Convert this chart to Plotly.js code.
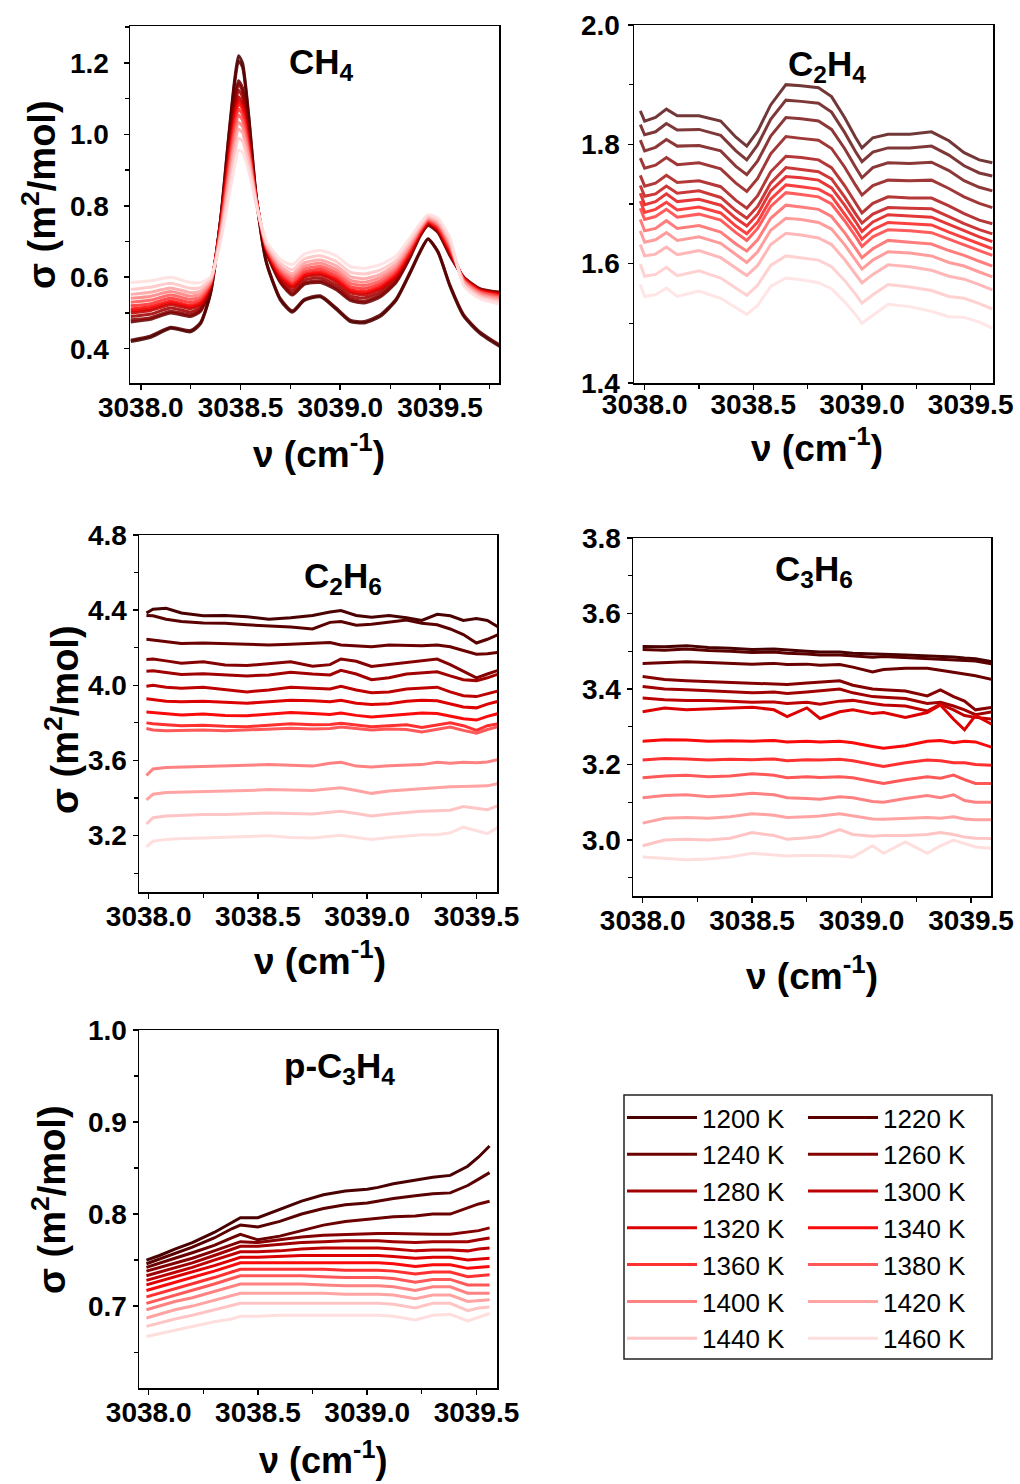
<!DOCTYPE html>
<html>
<head>
<meta charset="utf-8">
<script src="https://cdn.plot.ly/plotly-3.0.1.min.js"></script>
<style>html,body{margin:0;padding:0;background:#fff;}#chart{width:1020px;height:1484px;}</style>
</head>
<body>
<div id="chart"></div>
<script>
// ---------- DATA ----------
const temps = [1200,1220,1240,1260,1280,1300,1320,1340,1360,1380,1400,1420,1440,1460];
const colors = ['#4a0000','#5a0000','#6b0000','#850000','#a00000','#bd0000','#dc0000','#fa0a0a','#ff3030','#ff5858','#ff8282','#ffa3a3','#ffc4c4','#ffdede'];

// CH4 panel
const ch4X = [3037.95,3038.05,3038.15,3038.25,3038.30,3038.35,3038.40,3038.44,3038.47,3038.49,3038.51,3038.54,3038.58,3038.63,3038.70,3038.76,3038.82,3038.90,3038.98,3039.05,3039.12,3039.20,3039.28,3039.35,3039.40,3039.44,3039.49,3039.55,3039.62,3039.70,3039.80];
const ch4Y = [
 [.420,.432,.457,.447,.470,.555,.760,.990,1.150,1.220,1.200,1.060,.820,.640,.536,.502,.535,.545,.510,.476,.472,.490,.535,.611,.670,.706,.670,.575,.490,.443,.406], // 1200
 [.424,.436,.460,.451,.474,.557,.758,.985,1.140,1.205,1.188,1.052,.818,.642,.540,.506,.538,.548,.514,.480,.476,.494,.539,.614,.672,.708,.672,.578,.494,.447,.410], // 1220
 [.475,.482,.500,.490,.505,.570,.760,.960,1.100,1.150,1.130,1.010,.820,.670,.585,.550,.580,.585,.565,.535,.528,.545,.585,.655,.715,.745,.725,.660,.600,.568,.558], // 1240
 [.481,.487,.505,.495,.509,.572,.757,.953,1.090,1.140,1.121,1.004,.819,.672,.588,.555,.584,.590,.570,.540,.533,.550,.589,.658,.717,.747,.727,.663,.599,.567,.557], // 1260
 [.490,.497,.514,.503,.516,.574,.752,.940,1.073,1.123,1.105,.995,.817,.674,.594,.563,.592,.598,.578,.548,.542,.558,.596,.663,.720,.749,.731,.667,.598,.566,.555], // 1280
 [.500,.507,.523,.512,.523,.577,.746,.928,1.056,1.105,1.089,.985,.815,.677,.600,.571,.600,.606,.587,.557,.550,.566,.602,.668,.723,.752,.734,.672,.597,.564,.553], // 1300
 [.506,.512,.528,.517,.527,.578,.743,.921,1.047,1.095,1.080,.979,.814,.678,.603,.575,.604,.610,.592,.562,.555,.570,.606,.670,.725,.753,.736,.674,.596,.563,.552], // 1320
 [.511,.518,.533,.521,.531,.580,.740,.914,1.037,1.086,1.071,.974,.813,.680,.606,.579,.608,.615,.596,.566,.560,.575,.610,.673,.727,.755,.738,.677,.595,.562,.550], // 1340
 [.520,.526,.541,.529,.538,.582,.735,.903,1.022,1.070,1.056,.965,.812,.682,.612,.586,.615,.622,.604,.574,.568,.582,.616,.678,.729,.757,.741,.681,.593,.560,.548], // 1360
 [.530,.536,.550,.538,.545,.585,.730,.890,1.005,1.053,1.040,.955,.810,.685,.618,.594,.623,.630,.613,.583,.577,.590,.623,.683,.733,.760,.745,.685,.591,.558,.545], // 1380
 [.541,.547,.560,.547,.553,.588,.724,.876,.986,1.033,1.022,.944,.808,.688,.624,.602,.631,.639,.622,.592,.586,.599,.630,.688,.736,.763,.749,.690,.588,.555,.541], // 1400
 [.552,.558,.570,.557,.561,.591,.718,.862,.967,1.014,1.004,.933,.806,.691,.631,.610,.640,.648,.632,.602,.596,.608,.638,.694,.740,.766,.753,.695,.585,.551,.537], // 1420
 [.566,.572,.583,.569,.571,.595,.710,.844,.942,.988,.981,.919,.803,.695,.639,.621,.651,.660,.644,.614,.609,.620,.647,.701,.744,.770,.758,.702,.580,.546,.531], // 1440
 [.585,.590,.600,.585,.585,.600,.700,.820,.910,.955,.950,.900,.800,.700,.650,.635,.665,.675,.660,.630,.625,.635,.660,.710,.750,.775,.765,.710,.575,.540,.525]  // 1460
];

// C2H4 panel
const c2h4X = [3037.98,3038.00,3038.05,3038.10,3038.15,3038.25,3038.35,3038.42,3038.47,3038.52,3038.58,3038.65,3038.72,3038.80,3038.86,3038.92,3038.97,3039.00,3039.05,3039.12,3039.22,3039.32,3039.40,3039.47,3039.54,3039.60];
const c2h4Y = [
 [1.856,1.839,1.845,1.859,1.848,1.848,1.839,1.812,1.797,1.822,1.866,1.900,1.898,1.895,1.880,1.845,1.812,1.794,1.811,1.817,1.817,1.821,1.806,1.786,1.774,1.769],
 [1.833,1.816,1.821,1.835,1.824,1.825,1.815,1.789,1.774,1.799,1.842,1.874,1.872,1.869,1.854,1.820,1.788,1.771,1.787,1.794,1.794,1.797,1.782,1.764,1.752,1.747],
 [1.807,1.789,1.795,1.808,1.797,1.798,1.789,1.763,1.749,1.772,1.814,1.845,1.843,1.839,1.825,1.793,1.762,1.744,1.761,1.769,1.768,1.770,1.756,1.739,1.728,1.722],
 [1.777,1.760,1.765,1.778,1.766,1.769,1.759,1.735,1.721,1.743,1.784,1.813,1.810,1.807,1.793,1.762,1.732,1.715,1.731,1.740,1.739,1.740,1.726,1.712,1.701,1.694],
 [1.748,1.730,1.735,1.748,1.736,1.739,1.729,1.706,1.693,1.714,1.754,1.780,1.778,1.774,1.761,1.731,1.702,1.685,1.701,1.712,1.710,1.710,1.697,1.684,1.673,1.667],
 [1.731,1.713,1.717,1.730,1.718,1.722,1.711,1.689,1.676,1.696,1.735,1.761,1.758,1.754,1.742,1.712,1.684,1.668,1.683,1.694,1.693,1.692,1.679,1.667,1.657,1.650],
 [1.718,1.699,1.704,1.717,1.704,1.708,1.698,1.676,1.663,1.683,1.722,1.746,1.744,1.740,1.727,1.698,1.671,1.654,1.670,1.682,1.680,1.678,1.666,1.655,1.645,1.637],
 [1.705,1.686,1.691,1.703,1.690,1.695,1.685,1.663,1.650,1.670,1.708,1.732,1.729,1.725,1.713,1.684,1.658,1.641,1.657,1.669,1.667,1.665,1.653,1.643,1.633,1.625],
 [1.693,1.674,1.679,1.691,1.678,1.683,1.673,1.652,1.639,1.659,1.696,1.719,1.716,1.712,1.700,1.672,1.646,1.629,1.645,1.657,1.655,1.652,1.641,1.631,1.622,1.614],
 [1.674,1.655,1.659,1.672,1.659,1.664,1.653,1.633,1.621,1.640,1.676,1.698,1.695,1.691,1.679,1.652,1.626,1.610,1.625,1.639,1.636,1.633,1.622,1.614,1.604,1.596],
 [1.655,1.636,1.640,1.652,1.639,1.645,1.634,1.615,1.602,1.620,1.656,1.676,1.674,1.669,1.658,1.632,1.607,1.591,1.606,1.620,1.618,1.613,1.602,1.596,1.586,1.578],
 [1.632,1.613,1.616,1.628,1.615,1.622,1.610,1.592,1.580,1.597,1.632,1.651,1.648,1.643,1.632,1.607,1.583,1.568,1.582,1.598,1.595,1.589,1.579,1.574,1.565,1.556],
 [1.599,1.579,1.582,1.594,1.580,1.588,1.576,1.559,1.547,1.564,1.597,1.613,1.610,1.606,1.595,1.572,1.549,1.534,1.548,1.565,1.561,1.555,1.545,1.542,1.533,1.524],
 [1.565,1.545,1.548,1.559,1.545,1.554,1.542,1.526,1.515,1.530,1.562,1.576,1.573,1.568,1.558,1.536,1.515,1.500,1.514,1.532,1.528,1.520,1.511,1.510,1.502,1.492]
];

// C2H6 panel
const c2h6X = [3037.99,3038.02,3038.08,3038.15,3038.25,3038.35,3038.45,3038.55,3038.65,3038.75,3038.83,3038.88,3038.95,3039.02,3039.10,3039.18,3039.25,3039.32,3039.38,3039.44,3039.50,3039.55,3039.60];
const c2h6Y = [
 [4.385,4.405,4.410,4.385,4.370,4.372,4.365,4.352,4.360,4.372,4.390,4.398,4.372,4.362,4.372,4.360,4.345,4.378,4.370,4.345,4.355,4.345,4.310],
 [4.372,4.370,4.352,4.340,4.332,4.330,4.322,4.318,4.310,4.300,4.335,4.340,4.320,4.325,4.335,4.348,4.330,4.322,4.300,4.270,4.225,4.245,4.270],
 [4.245,4.240,4.232,4.222,4.225,4.222,4.220,4.215,4.218,4.225,4.228,4.215,4.208,4.205,4.215,4.212,4.210,4.215,4.205,4.185,4.165,4.168,4.175],
 [4.138,4.140,4.130,4.118,4.125,4.108,4.105,4.115,4.125,4.102,4.110,4.140,4.128,4.100,4.110,4.120,4.128,4.140,4.110,4.075,4.040,4.060,4.080],
 [4.075,4.078,4.068,4.058,4.062,4.055,4.050,4.055,4.070,4.060,4.055,4.080,4.060,4.030,4.040,4.060,4.065,4.072,4.050,4.030,4.025,4.040,4.060],
 [3.995,4.000,3.990,3.985,3.990,3.978,3.965,3.975,3.990,3.985,3.980,3.995,3.975,3.960,3.965,3.980,3.985,3.990,3.965,3.945,3.940,3.955,3.970],
 [3.928,3.925,3.915,3.912,3.915,3.910,3.905,3.912,3.920,3.918,3.912,3.920,3.905,3.898,3.902,3.915,3.920,3.918,3.900,3.885,3.880,3.900,3.915],
 [3.858,3.855,3.848,3.842,3.848,3.840,3.838,3.845,3.855,3.850,3.845,3.852,3.840,3.832,3.838,3.848,3.852,3.850,3.835,3.822,3.815,3.835,3.850],
 [3.800,3.795,3.790,3.785,3.788,3.782,3.780,3.788,3.795,3.790,3.792,3.798,3.788,3.780,3.785,3.790,3.775,3.790,3.800,3.785,3.760,3.785,3.795],
 [3.770,3.762,3.758,3.760,3.762,3.758,3.762,3.765,3.772,3.768,3.770,3.778,3.770,3.762,3.768,3.765,3.752,3.768,3.778,3.760,3.745,3.765,3.780],
 [3.520,3.555,3.562,3.565,3.568,3.570,3.575,3.578,3.575,3.570,3.585,3.590,3.570,3.565,3.572,3.575,3.578,3.590,3.585,3.590,3.588,3.592,3.605],
 [3.390,3.420,3.430,3.432,3.435,3.435,3.440,3.445,3.442,3.440,3.450,3.455,3.440,3.425,3.438,3.445,3.450,3.458,3.460,3.462,3.465,3.465,3.478],
 [3.262,3.295,3.305,3.308,3.312,3.312,3.318,3.320,3.318,3.315,3.325,3.330,3.318,3.305,3.315,3.325,3.330,3.332,3.335,3.355,3.345,3.338,3.360],
 [3.140,3.170,3.180,3.185,3.188,3.190,3.195,3.200,3.190,3.188,3.198,3.202,3.190,3.180,3.190,3.200,3.205,3.205,3.215,3.245,3.228,3.210,3.245]
];

// C3H6 panel
const c3h6X = [3038.00,3038.10,3038.20,3038.30,3038.40,3038.50,3038.60,3038.66,3038.75,3038.81,3038.90,3038.96,3039.05,3039.10,3039.20,3039.30,3039.36,3039.42,3039.47,3039.52,3039.60];
const c3h6Y = [
 [3.513,3.512,3.515,3.510,3.508,3.505,3.506,3.503,3.500,3.498,3.498,3.495,3.492,3.492,3.490,3.488,3.487,3.485,3.482,3.480,3.472],
 [3.505,3.503,3.506,3.502,3.500,3.497,3.498,3.495,3.493,3.490,3.490,3.487,3.484,3.486,3.483,3.482,3.480,3.478,3.476,3.474,3.466],
 [3.468,3.470,3.472,3.470,3.468,3.466,3.468,3.465,3.466,3.463,3.465,3.458,3.445,3.452,3.455,3.455,3.450,3.445,3.440,3.435,3.425],
 [3.433,3.425,3.422,3.420,3.418,3.415,3.414,3.412,3.416,3.418,3.422,3.410,3.400,3.398,3.395,3.382,3.398,3.380,3.368,3.345,3.352],
 [3.407,3.400,3.398,3.395,3.393,3.390,3.392,3.388,3.392,3.396,3.400,3.390,3.380,3.378,3.375,3.362,3.365,3.355,3.345,3.332,3.340],
 [3.376,3.372,3.370,3.370,3.368,3.365,3.366,3.362,3.365,3.360,3.368,3.370,3.362,3.358,3.355,3.342,3.360,3.345,3.330,3.325,3.320],
 [3.340,3.350,3.345,3.348,3.350,3.352,3.345,3.327,3.350,3.322,3.340,3.345,3.335,3.338,3.325,3.338,3.358,3.320,3.292,3.330,3.305],
 [3.262,3.266,3.265,3.262,3.263,3.262,3.264,3.260,3.262,3.260,3.262,3.258,3.248,3.243,3.250,3.262,3.264,3.258,3.262,3.260,3.245],
 [3.212,3.216,3.215,3.212,3.214,3.213,3.215,3.210,3.213,3.212,3.214,3.210,3.200,3.195,3.205,3.212,3.210,3.205,3.205,3.200,3.198],
 [3.165,3.170,3.172,3.168,3.170,3.176,3.172,3.165,3.168,3.166,3.168,3.165,3.155,3.150,3.160,3.168,3.164,3.172,3.160,3.150,3.150],
 [3.112,3.118,3.120,3.115,3.118,3.124,3.120,3.112,3.110,3.108,3.115,3.112,3.102,3.100,3.110,3.118,3.112,3.120,3.105,3.100,3.100],
 [3.045,3.058,3.060,3.058,3.062,3.070,3.066,3.060,3.062,3.064,3.070,3.064,3.056,3.055,3.058,3.060,3.058,3.062,3.056,3.054,3.054],
 [2.985,3.000,3.002,3.000,3.005,3.020,3.012,3.002,3.006,3.010,3.028,3.015,3.010,3.012,3.012,3.015,3.020,3.015,3.008,3.005,3.004],
 [2.955,2.952,2.948,2.950,2.955,2.965,2.960,2.958,2.960,2.960,2.958,2.955,2.985,2.965,2.995,2.965,2.985,3.000,2.990,2.982,2.978]
];

// p-C3H4 panel
const pc3h4X = [3037.99,3038.05,3038.12,3038.20,3038.30,3038.38,3038.42,3038.50,3038.60,3038.70,3038.80,3038.90,3039.00,3039.05,3039.12,3039.22,3039.30,3039.38,3039.46,3039.51,3039.56];
const pc3h4Y = [
 [0.750,0.755,0.762,0.769,0.780,0.791,0.796,0.796,0.805,0.814,0.821,0.825,0.827,0.829,0.833,0.837,0.840,0.842,0.852,0.862,0.874],
 [0.746,0.751,0.757,0.764,0.774,0.784,0.788,0.786,0.792,0.800,0.806,0.810,0.812,0.814,0.817,0.820,0.822,0.823,0.831,0.838,0.845],
 [0.742,0.747,0.752,0.758,0.766,0.774,0.778,0.772,0.776,0.782,0.788,0.792,0.794,0.795,0.797,0.798,0.800,0.800,0.807,0.811,0.814],
 [0.738,0.742,0.747,0.752,0.760,0.767,0.770,0.769,0.772,0.775,0.777,0.778,0.779,0.779,0.779,0.778,0.778,0.778,0.780,0.782,0.785],
 [0.733,0.737,0.742,0.747,0.755,0.762,0.765,0.765,0.767,0.769,0.770,0.771,0.771,0.771,0.770,0.769,0.770,0.770,0.770,0.772,0.774],
 [0.728,0.732,0.737,0.742,0.750,0.756,0.759,0.759,0.760,0.762,0.763,0.763,0.763,0.763,0.762,0.760,0.761,0.761,0.760,0.762,0.763],
 [0.723,0.727,0.732,0.737,0.744,0.750,0.753,0.753,0.754,0.755,0.755,0.755,0.755,0.755,0.754,0.752,0.753,0.753,0.750,0.751,0.752],
 [0.717,0.721,0.726,0.731,0.738,0.744,0.747,0.747,0.747,0.747,0.747,0.747,0.747,0.747,0.746,0.743,0.745,0.745,0.741,0.742,0.743],
 [0.710,0.714,0.719,0.724,0.731,0.737,0.740,0.740,0.740,0.740,0.740,0.739,0.739,0.739,0.738,0.735,0.737,0.737,0.732,0.733,0.734],
 [0.703,0.707,0.712,0.717,0.724,0.730,0.733,0.733,0.733,0.733,0.732,0.731,0.731,0.731,0.730,0.726,0.729,0.729,0.723,0.723,0.723],
 [0.696,0.700,0.705,0.709,0.716,0.721,0.724,0.724,0.724,0.724,0.723,0.722,0.722,0.722,0.721,0.717,0.721,0.721,0.714,0.714,0.714],
 [0.687,0.691,0.696,0.700,0.706,0.711,0.714,0.714,0.714,0.714,0.714,0.713,0.713,0.713,0.712,0.708,0.712,0.712,0.705,0.706,0.707],
 [0.678,0.682,0.686,0.690,0.696,0.700,0.703,0.703,0.703,0.703,0.703,0.703,0.703,0.703,0.702,0.698,0.703,0.703,0.695,0.698,0.699],
 [0.667,0.670,0.674,0.678,0.683,0.686,0.689,0.689,0.690,0.690,0.690,0.690,0.690,0.690,0.689,0.685,0.690,0.691,0.684,0.688,0.692]
];

const panelNames = ['CH<sub>4</sub>','C<sub>2</sub>H<sub>4</sub>','C<sub>2</sub>H<sub>6</sub>','C<sub>3</sub>H<sub>6</sub>','p-C<sub>3</sub>H<sub>4</sub>'];

// ---------- FIGURE ----------
const W = 1020, H = 1484;
const px = v => v / W;
const py = v => 1 - v / H;
const FONT = 'Liberation Sans, Arial, Helvetica, sans-serif';

const panels = [
  {x: ch4X,   ys: ch4Y,   xa: 'x',  ya: 'y',  opacity: 0.88, shape: 'spline'},
  {x: c2h4X,  ys: c2h4Y,  xa: 'x2', ya: 'y2', opacity: 0.78, shape: 'linear'},
  {x: c2h6X,  ys: c2h6Y,  xa: 'x3', ya: 'y3', opacity: 1.0,  shape: 'linear'},
  {x: c3h6X,  ys: c3h6Y,  xa: 'x4', ya: 'y4', opacity: 1.0,  shape: 'linear'},
  {x: pc3h4X, ys: pc3h4Y, xa: 'x5', ya: 'y5', opacity: 1.0,  shape: 'linear'}
];

const traces = [];
panels.forEach((p, pi) => {
  p.ys.forEach((y, i) => {
    traces.push({
      type: 'scatter', mode: 'lines',
      x: p.x, y: y, xaxis: p.xa, yaxis: p.ya,
      name: temps[i] + ' K',
      legend: (i % 2 === 0) ? 'legend' : 'legend2',
      showlegend: pi === 3,
      opacity: p.opacity,
      line: {color: colors[i], width: 3, shape: p.shape, smoothing: 0.6},
      hoverinfo: 'skip'
    });
  });
});

function axis(domain, range, dtick, minor, anchor, standoff) {
  return {
    domain: domain, range: range, anchor: anchor,
    tick0: 0, dtick: dtick, tickformat: '.1f',
    ticks: 'outside', ticklen: 5, tickwidth: 1.5, tickcolor: '#000',
    ticklabelstandoff: standoff,
    showline: true, linecolor: '#000', linewidth: 1.5, mirror: true,
    showgrid: false, zeroline: false, fixedrange: true,
    tickfont: {family: FONT, size: 28, color: '#000', weight: 'bold'},
    minor: {dtick: minor, tick0: 0, ticks: 'outside', ticklen: 4, tickwidth: 1.2, tickcolor: '#000', showgrid: false}
  };
}

const boxes = [
  {l: 130, r: 499, t: 26, b: 383, xr: [3037.946, 3039.796], yr: [0.304, 1.303], yd: 0.2, ym: 0.1, ys: 9, xs: -6},
  {l: 634, r: 993, t: 25, b: 383, xr: [3037.951, 3039.603], yr: [1.4, 2.0], yd: 0.2, ym: 0.1, ys: 2, xs: -9},
  {l: 139, r: 497, t: 535, b: 892, xr: [3037.956, 3039.594], yr: [2.9, 4.8], yd: 0.4, ym: 0.2, ys: 0, xs: -6},
  {l: 633, r: 991, t: 538, b: 896, xr: [3037.956, 3039.591], yr: [2.852, 3.8], yd: 0.2, ym: 0.1, ys: 0, xs: -6},
  {l: 139, r: 497, t: 1030, b: 1388, xr: [3037.956, 3039.594], yr: [0.611, 1.0], yd: 0.1, ym: 0.05, ys: 0, xs: -6}
];

const layout = {
  width: W, height: H,
  margin: {l: 0, r: 0, t: 0, b: 0},
  paper_bgcolor: '#fff', plot_bgcolor: '#fff',
  font: {family: FONT, color: '#000'},
  showlegend: true,
  legend: {
    x: px(622), y: py(1094), xanchor: 'left', yanchor: 'top',
    orientation: 'v', itemwidth: 70, tracegroupgap: 0,
    bgcolor: 'rgba(0,0,0,0)', borderwidth: 0,
    font: {family: FONT, size: 26, color: '#000'}
  },
  legend2: {
    x: px(803), y: py(1094), xanchor: 'left', yanchor: 'top',
    orientation: 'v', itemwidth: 70, tracegroupgap: 0,
    bgcolor: 'rgba(0,0,0,0)', borderwidth: 0,
    font: {family: FONT, size: 26, color: '#000'}
  },
  shapes: [{
    type: 'rect', xref: 'paper', yref: 'paper',
    x0: px(624), x1: px(992), y0: py(1359), y1: py(1095),
    line: {color: '#222', width: 1.5}, fillcolor: 'rgba(0,0,0,0)'
  }],
  annotations: []
};

boxes.forEach((b, i) => {
  const n = i === 0 ? '' : String(i + 1);
  layout['xaxis' + n] = axis([px(b.l), px(b.r)], b.xr, 0.5, 0.25, 'y' + n, b.xs);
  layout['yaxis' + n] = axis([py(b.b), py(b.t)], b.yr, b.yd, b.ym, 'x' + n, b.ys);
});

function ann(text, x, y, size, angle) {
  layout.annotations.push({
    text: text, x: px(x), y: py(y), xref: 'paper', yref: 'paper',
    xanchor: 'center', yanchor: 'middle', showarrow: false,
    textangle: angle || 0,
    font: {family: FONT, size: size, color: '#000', weight: 'bold'}
  });
}

// molecule labels
const labelPos = [[321, 64], [827, 66], [343, 578], [814, 571], [339, 1068]];
panelNames.forEach((t, i) => ann(t, labelPos[i][0], labelPos[i][1], 35));

// x-axis titles
const xTitle = 'ν (cm<sup>-1</sup>)';
[[319, 452], [817, 445], [320, 958], [812, 973]].forEach(p => ann(xTitle, p[0], p[1], 37));
ann(xTitle, 323, 1458, 36);

// y-axis titles
const yTitle = 'σ (m<sup>2</sup>/mol)';
[[39, 195], [62, 720], [49, 1200]].forEach(p => ann(yTitle, p[0], p[1], 38, -90));

Plotly.newPlot('chart', traces, layout, {staticPlot: true, displayModeBar: false});
</script>
</body>
</html>
